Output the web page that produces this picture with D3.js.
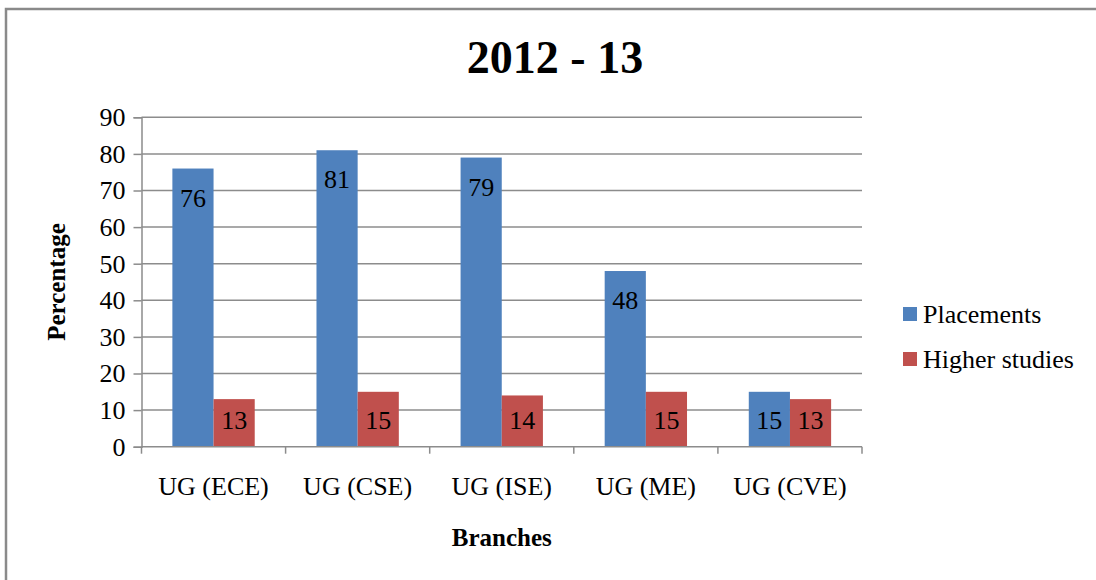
<!DOCTYPE html>
<html>
<head>
<meta charset="utf-8">
<script src="https://cdn.jsdelivr.net/npm/d3@7"></script>
<style>
  body { margin: 0; background: #fff; }
  svg text { font-family: "Liberation Serif", "Times New Roman", serif; }
</style>
</head>
<body>
<div id="graph"></div>
<script>
var branches = ['UG (ECE)', 'UG (CSE)', 'UG (ISE)', 'UG (ME)', 'UG (CVE)'];
var placements = [76, 81, 79, 48, 15];
var higherStudies = [13, 15, 14, 15, 13];
var seriesNames = ['Placements', 'Higher studies'];
var yTicks = [0, 10, 20, 30, 40, 50, 60, 70, 80, 90];

var colors = ['#4F81BD', '#C0504D'];
var width = 1096, height = 580;
// note: "top" is reserved on window, so use plot* names
var plotLeft = 141.5, plotRight = 862, plotTop = 117.3, plotBottom = 446.7;

var svg = d3.select('#graph').append('svg')
    .attr('width', width)
    .attr('height', height)
    .style('display', 'block');

// outer chart frame (only top and left edges are inside the picture)
svg.append('rect')
    .attr('x', 6).attr('y', 9)
    .attr('width', width + 20).attr('height', height + 20)
    .attr('fill', '#fff')
    .attr('stroke', '#8a8a8a')
    .attr('stroke-width', 2.5);

var x = d3.scaleBand().domain(branches).range([plotLeft, plotRight]).paddingInner(0).paddingOuter(0);
var y = d3.scaleLinear().domain([0, 90]).range([plotBottom, plotTop]);
// gap width 150% -> bar = band / 3.5
var barW = x.bandwidth() / 3.5;
var sub = d3.scaleBand().domain(seriesNames).range([0.75 * barW, 2.75 * barW]);

// gridlines
svg.append('g').selectAll('line')
    .data(yTicks.filter(function(d) { return d > 0; }))
  .enter().append('line')
    .attr('x1', plotLeft).attr('x2', plotRight)
    .attr('y1', function(d) { return y(d); })
    .attr('y2', function(d) { return y(d); })
    .attr('stroke', '#8c8c8c')
    .attr('stroke-width', 1.5);

// y axis
var yAxis = svg.append('g')
    .attr('transform', 'translate(' + plotLeft + ',0)')
    .call(d3.axisLeft(y).tickValues(yTicks).tickSize(8).tickPadding(8));
yAxis.attr('font-family', null).attr('font-size', null);
yAxis.select('.domain').attr('stroke', '#8c8c8c').attr('stroke-width', 1.5);
yAxis.selectAll('.tick line').attr('stroke', '#8c8c8c').attr('stroke-width', 1.5);
yAxis.selectAll('.tick text').attr('font-size', 26).attr('fill', '#000');

// bars
var rows = branches.map(function(b, i) {
  return {branch: b, values: [placements[i], higherStudies[i]]};
});

var group = svg.selectAll('.grp')
    .data(rows)
  .enter().append('g')
    .attr('class', 'grp')
    .attr('transform', function(d) { return 'translate(' + x(d.branch) + ',0)'; });

group.selectAll('rect')
    .data(function(d) { return d.values.map(function(v, k) { return {v: v, k: k}; }); })
  .enter().append('rect')
    .attr('x', function(d) { return sub(seriesNames[d.k]); })
    .attr('y', function(d) { return y(d.v); })
    .attr('width', sub.bandwidth())
    .attr('height', function(d) { return y(0) - y(d.v); })
    .attr('fill', function(d) { return colors[d.k]; });

// labels sit just inside the bar end, but never closer than 27px to the axis
group.selectAll('text')
    .data(function(d) { return d.values.map(function(v, k) { return {v: v, k: k}; }); })
  .enter().append('text')
    .attr('x', function(d) { return sub(seriesNames[d.k]) + sub.bandwidth() / 2; })
    .attr('y', function(d) { return Math.min(y(d.v) + 29, y(0) - 27); })
    .attr('dy', '0.35em')
    .attr('text-anchor', 'middle')
    .attr('font-size', 26)
    .text(function(d) { return d.v; });

// x axis
var xAxis = svg.append('g')
    .attr('transform', 'translate(0,' + plotBottom + ')');
xAxis.append('line')
    .attr('x1', plotLeft).attr('x2', plotRight)
    .attr('stroke', '#8c8c8c').attr('stroke-width', 1.5);
xAxis.selectAll('.xt')
    .data(branches.map(function(b) { return x(b); }).concat([plotRight]))
  .enter().append('line')
    .attr('x1', function(d) { return d; }).attr('x2', function(d) { return d; })
    .attr('y1', 0).attr('y2', 7)
    .attr('stroke', '#8c8c8c').attr('stroke-width', 1.5);
xAxis.selectAll('.xl')
    .data(branches)
  .enter().append('text')
    .attr('x', function(d) { return x(d) + x.bandwidth() / 2; })
    .attr('y', 48.5)
    .attr('text-anchor', 'middle')
    .attr('font-size', 26)
    .text(function(d) { return d; });

// titles
svg.append('text')
    .attr('x', 555).attr('y', 73)
    .attr('text-anchor', 'middle')
    .attr('font-size', 46).attr('font-weight', 'bold')
    .text('2012 - 13');

svg.append('text')
    .attr('transform', 'translate(65,' + ((plotTop + plotBottom) / 2) + ') rotate(-90)')
    .attr('text-anchor', 'middle')
    .attr('font-size', 25).attr('font-weight', 'bold')
    .text('Percentage');

svg.append('text')
    .attr('x', (plotLeft + plotRight) / 2).attr('y', 546)
    .attr('text-anchor', 'middle')
    .attr('font-size', 25).attr('font-weight', 'bold')
    .text('Branches');

// legend
var legend = svg.selectAll('.leg')
    .data(seriesNames)
  .enter().append('g')
    .attr('class', 'leg')
    .attr('transform', function(d, i) { return 'translate(903,' + (307 + i * 45) + ')'; });
legend.append('rect')
    .attr('width', 14).attr('height', 14)
    .attr('fill', function(d, i) { return colors[i]; });
legend.append('text')
    .attr('x', 20).attr('y', 16)
    .attr('font-size', 26)
    .text(function(d) { return d; });
</script>
</body>
</html>
